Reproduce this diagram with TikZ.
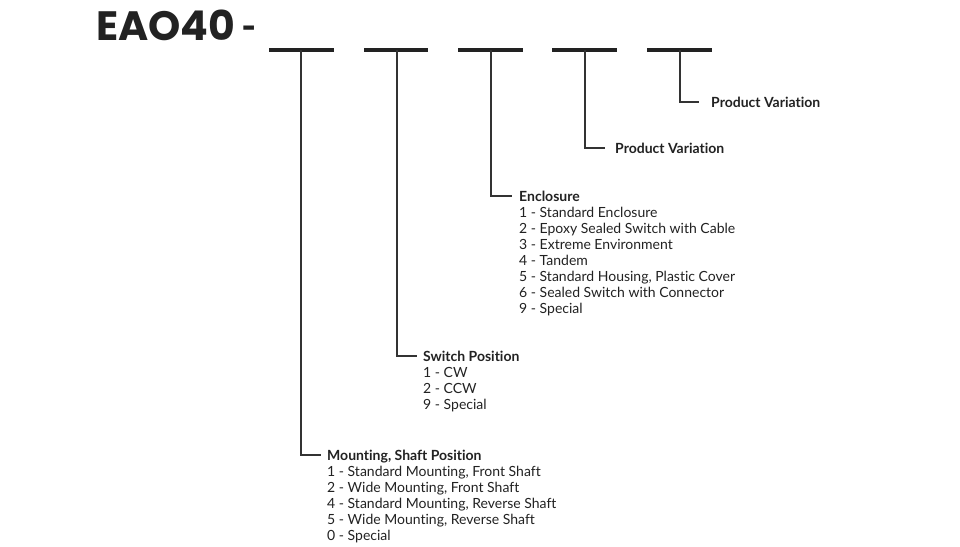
\documentclass[tikz,border=0pt]{standalone}
\usepackage{fontspec}
\setmainfont{Lato}[Ligatures=NoCommon]
\newfontfamily\titlefont{Poppins}
\newfontfamily\hyfont{Lato}
\definecolor{ink}{HTML}{222222}
\definecolor{rulec}{HTML}{333333}
\begin{document}
\begin{tikzpicture}[x=1pt,y=-1pt,
  blank/.style={line width=4pt, draw=ink},
  conn/.style={line width=1.4pt, draw=rulec},
  head/.style={font=\fontsize{14}{16}\selectfont\bfseries, text=ink, inner sep=0pt, text height=10pt, text depth=0pt, anchor=west},
  items/.style={font=\fontsize{14}{16}\selectfont, text=ink, inner sep=0pt, align=left, anchor=north west},
]
\useasboundingbox[fill=white] (0,0) rectangle (960,546);
\node[font=\titlefont\fontsize{41}{44}\selectfont\bfseries, anchor=base west, inner sep=0pt, text=ink] (title) at (96,40) {EAO40\hspace{6pt}{\hyfont\bfseries -}};
% blanks
\foreach \i/\l/\m/\r in {1/269/301/334, 2/364/397/428, 3/458/491/523, 4/552/585/617, 5/647/680/712}{
  \coordinate (bl\i) at (\l,50);
  \coordinate (br\i) at (\r,50);
  \coordinate (b\i) at (\m,50);
  \draw[blank] (bl\i) -- (br\i);
}
% labels
\node[head] (mount) at (327,455) {Mounting, Shaft Position};
\node[items] (mountlist) at ([yshift=-6pt]mount.south west) {\rule{0pt}{10pt}1 - Standard Mounting, Front Shaft\\2 - Wide Mounting, Front Shaft\\4 - Standard Mounting, Reverse Shaft\\5 - Wide Mounting, Reverse Shaft\\0 - Special};
\node[head] (switch) at (423,356) {Switch Position};
\node[items] (switchlist) at ([yshift=-6pt]switch.south west) {\rule{0pt}{10pt}1 - CW\\2 - CCW\\9 - Special};
\node[head] (encl) at (519,196) {Enclosure};
\node[items] (encllist) at ([yshift=-6pt]encl.south west) {\rule{0pt}{10pt}1 - Standard Enclosure\\2 - Epoxy Sealed Switch with Cable\\3 - Extreme Environment\\4 - Tandem\\5 - Standard Housing, Plastic Cover\\6 - Sealed Switch with Connector\\9 - Special};
\node[head] (pv1) at (615,148) {Product Variation};
\node[head] (pv2) at (711,102) {Product Variation};
% connectors
\draw[conn] (b1) |- ([xshift=-6pt]mount.west);
\draw[conn] (b2) |- ([xshift=-6pt]switch.west);
\draw[conn] (b3) |- ([xshift=-7pt]encl.west);
\draw[conn] (b4) |- ([xshift=-10pt]pv1.west);
\draw[conn] (b5) |- ([xshift=-12pt]pv2.west);
\end{tikzpicture}
\end{document}
